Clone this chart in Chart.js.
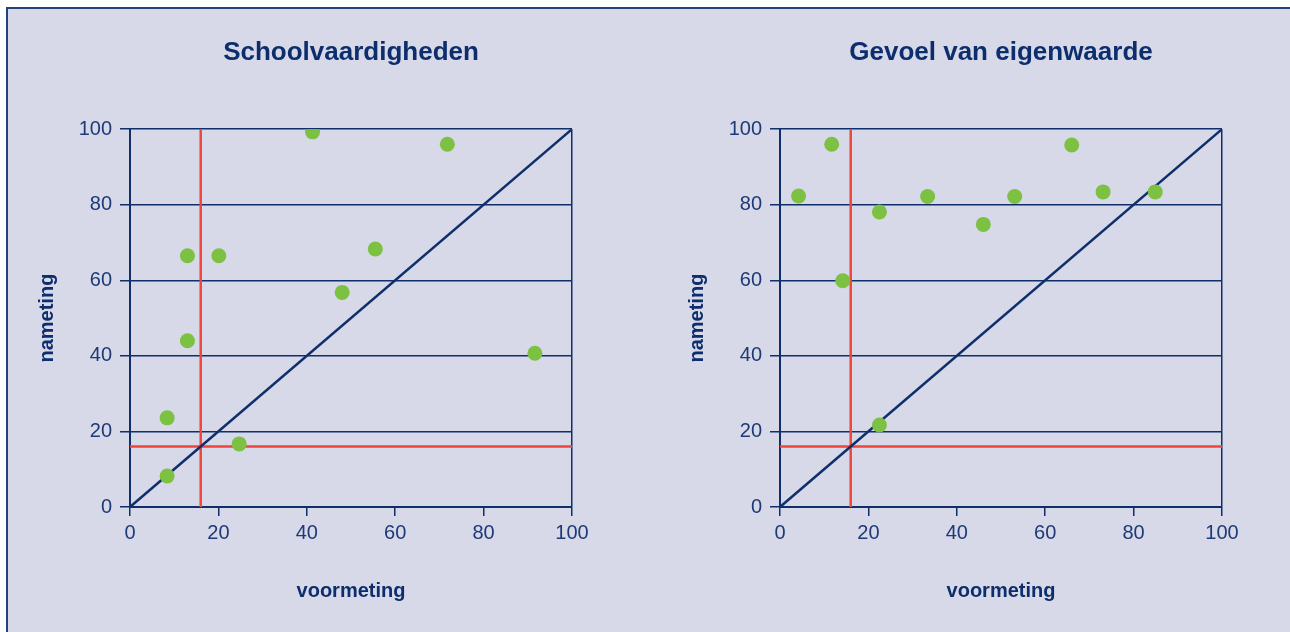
<!DOCTYPE html>
<html lang="nl">
  <head>
    <meta charset="UTF-8" />
    <title>Schoolvaardigheden en gevoel van eigenwaarde</title>
    <script src="https://cdn.jsdelivr.net/npm/chart.js"></script>
    <style>
      html,
      body {
        margin: 0;
        padding: 0;
        background: #ffffff;
        overflow: hidden;
      }
      #frame {
        position: absolute;
        left: 6px;
        top: 7px;
        width: 1300px;
        height: 640px;
        background: #d7d8e8;
        border-left: 2px solid #23417c;
        border-top: 2px solid #23417c;
      }
      .box {
        position: absolute;
        top: 0;
        height: 632px;
      }
      #box1 {
        left: 0;
        width: 645px;
      }
      #box2 {
        left: 650px;
        width: 640px;
      }
    </style>
  </head>
  <body>
    <div id="frame"></div>
    <div class="box" id="box1"><canvas id="chart1"></canvas></div>
    <div class="box" id="box2"><canvas id="chart2"></canvas></div>

    <script>
      // schoolvaardigheden: voormeting / nameting
      const schoolVoor = [8.4, 8.4, 13.0, 20.1, 13.0, 24.7, 41.3, 71.8, 55.5, 48.0, 91.6];
      const schoolNa = [23.6, 8.2, 66.5, 66.5, 44.0, 16.7, 99.3, 96.0, 68.3, 56.8, 40.7];

      // gevoel van eigenwaarde: voormeting / nameting
      const eigenVoor = [4.2, 11.7, 14.2, 22.5, 22.5, 33.4, 46.0, 53.1, 66.0, 73.1, 84.9];
      const eigenNa = [82.3, 96.0, 59.9, 78.1, 21.7, 82.2, 74.8, 82.2, 95.8, 83.4, 83.4];

      const titles = ["Schoolvaardigheden", "Gevoel van eigenwaarde"];
      const axisTicks = [0, 20, 40, 60, 80, 100];
      const grens = 16; // red reference lines
      const xTitle = "voormeting";
      const yTitle = "nameting";

      const navy = "#0f2f6b";
      const textNavy = "#1d3a76";
      const red = "#f0453a";
      const green = "#7cc142";
      const fam = '"Liberation Sans", Arial, Helvetica, sans-serif';

      Chart.defaults.font.family = fam;
      Chart.defaults.color = textNavy;

      function makeChart(id, title, xs, ys) {
        const points = xs.map((x, i) => ({ x: x, y: ys[i] }));
        const lo = axisTicks[0];
        const hi = axisTicks[axisTicks.length - 1];
        const canvasW = document.getElementById(id).parentNode.clientWidth;

        return new Chart(document.getElementById(id), {
          type: "scatter",
          data: {
            datasets: [
              {
                label: "deelnemers",
                data: points,
                backgroundColor: green,
                borderColor: green,
                pointRadius: 7.5,
                pointHoverRadius: 7.5,
                borderWidth: 0,
              },
              {
                type: "line",
                label: "diagonaal",
                data: [
                  { x: lo, y: lo },
                  { x: hi, y: hi },
                ],
                borderColor: navy,
                borderWidth: 2.5,
                pointRadius: 0,
                fill: false,
              },
              {
                type: "line",
                label: "grens x",
                data: [
                  { x: grens, y: lo },
                  { x: grens, y: hi },
                ],
                borderColor: red,
                borderWidth: 2.5,
                pointRadius: 0,
                fill: false,
              },
              {
                type: "line",
                label: "grens y",
                data: [
                  { x: lo, y: grens },
                  { x: hi, y: grens },
                ],
                borderColor: red,
                borderWidth: 2.5,
                pointRadius: 0,
                fill: false,
              },
            ],
          },
          options: {
            responsive: true,
            maintainAspectRatio: false,
            animation: false,
            events: [],
            layout: {
              padding: { left: 0, top: 0, right: canvasW - 572, bottom: 0 },
            },
            plugins: {
              legend: { display: false },
              tooltip: { enabled: false },
              title: {
                display: true,
                text: title,
                fullSize: false,
                color: "#0d2e6c",
                font: { size: 26, weight: "bold", family: fam },
                padding: { top: 37, bottom: 61 },
              },
            },
            scales: {
              x: {
                type: "linear",
                min: lo,
                max: hi,
                afterBuildTicks: (s) => {
                  s.ticks = axisTicks.map((v) => ({ value: v }));
                },
                afterFit: (s) => {
                  s.height = 125;
                },
                ticks: {
                  color: textNavy,
                  font: { size: 20 },
                  padding: 5,
                },
                grid: {
                  drawOnChartArea: true,
                  color: (c) => (c.tick && c.tick.value === hi ? navy : "rgba(0,0,0,0)"),
                  tickColor: navy,
                  tickLength: 9,
                  lineWidth: 1.5,
                },
                border: { display: true, color: navy, width: 2 },
                title: {
                  display: true,
                  text: xTitle,
                  color: "#0d2e6c",
                  font: { size: 20, weight: "bold" },
                  padding: { top: 0, bottom: 29 },
                },
              },
              y: {
                type: "linear",
                min: lo,
                max: hi,
                afterBuildTicks: (s) => {
                  s.ticks = axisTicks.map((v) => ({ value: v }));
                },
                afterFit: (s) => {
                  s.width = 130;
                },
                ticks: {
                  color: textNavy,
                  font: { size: 20 },
                  padding: 8,
                },
                grid: {
                  color: navy,
                  tickColor: navy,
                  tickLength: 10,
                  lineWidth: 1.5,
                },
                border: { display: true, color: navy, width: 2 },
                title: {
                  display: true,
                  text: yTitle,
                  color: "#0d2e6c",
                  font: { size: 20, weight: "bold" },
                  padding: { top: 35, bottom: 0 },
                },
              },
            },
          },
        });
      }

      makeChart("chart1", titles[0], schoolVoor, schoolNa);
      makeChart("chart2", titles[1], eigenVoor, eigenNa);
    </script>
  </body>
</html>
